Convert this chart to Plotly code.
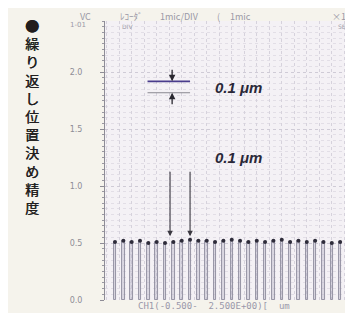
import plotly.graph_objects as go

# ---- data ----
bar_index = list(range(1, 31))
bar_values = [0.51, 0.52, 0.51, 0.52, 0.50, 0.51, 0.50, 0.51, 0.52, 0.53,
              0.52, 0.52, 0.51, 0.52, 0.53, 0.52, 0.51, 0.52, 0.51, 0.52,
              0.53, 0.51, 0.52, 0.51, 0.52, 0.51, 0.50, 0.51, 0.50, 0.51]
y_tick_vals = [0.0, 0.5, 1.0, 1.5, 2.0]
y_tick_text = ["0.0", "0.5", "1.0", "1.5", "2.0"]
ref_levels = [1.92, 1.82]
ref_span = [4.9, 10.0]
arrow_bars = [7.6, 10.0]
title_text = "●繰り返し位置決め精度"
annot_text = "0.1 μm"
header_parts = ["VC", "ﾚｺｰﾀﾞ", "1mic/DIV", "(", "1mic", "×1)"]
header_px = [70, 110, 150, 207, 220, 322]
caption_text = "CH1(-0.500-  2.500E+00)[  um"

fig = go.Figure()

fig.add_trace(go.Bar(
    x=bar_index, y=bar_values, width=0.3,
    marker=dict(color="rgba(170,165,190,0.35)",
                line=dict(color="#8c8a9c", width=0.9)),
    hoverinfo="skip", showlegend=False))

fig.add_trace(go.Scatter(
    x=bar_index, y=bar_values, mode="markers",
    marker=dict(color="#2e2c3a", size=4),
    hoverinfo="skip", showlegend=False))

# reference lines (0.1 um apart)
fig.add_shape(type="line", x0=ref_span[0], x1=ref_span[1], y0=ref_levels[0], y1=ref_levels[0],
              line=dict(color="#4a3c8c", width=1.6))
fig.add_shape(type="line", x0=ref_span[0], x1=ref_span[1], y0=ref_levels[1], y1=ref_levels[1],
              line=dict(color="#8a8890", width=1))

ax_x = (ref_span[0] + ref_span[1]) / 2 + 0.4
fig.add_annotation(x=ax_x, y=ref_levels[0], ax=0, ay=-13, showarrow=True,
                   arrowhead=2, arrowsize=1, arrowwidth=1.3, arrowcolor="#2a2830", text="")
fig.add_annotation(x=ax_x, y=ref_levels[1], ax=0, ay=13, showarrow=True,
                   arrowhead=2, arrowsize=1, arrowwidth=1.3, arrowcolor="#2a2830", text="")

for xb in arrow_bars:
    fig.add_annotation(x=xb, y=0.56, ax=0, ay=-66, showarrow=True,
                       arrowhead=2, arrowsize=1, arrowwidth=1.1, arrowcolor="#3a3840", text="")

for yv in [(ref_levels[0] + ref_levels[1]) / 2, 1.25]:
    fig.add_annotation(xref="paper", yref="y", x=0.42, y=yv,
                       xanchor="left", yanchor="middle", showarrow=False,
                       text="<b><i>" + annot_text + "</i></b>",
                       font=dict(family="Liberation Sans, Arial", size=15, color="#2a2838"))

# vertical Japanese title
fig.add_annotation(xref="paper", yref="paper", x=-0.285, y=1.027,
                   xanchor="center", yanchor="top", showarrow=False, align="center",
                   text="<br>".join(list(title_text)),
                   font=dict(family="Noto Sans CJK JP", size=14, color="#221e1e",
                             shadow="0.5px 0px 0px #221e1e"))

# header / caption texts
def px_to_paper(px):
    return (px - 97) / 256.0

for t, p in zip(header_parts, header_px):
    fig.add_annotation(xref="paper", yref="paper", x=px_to_paper(p), y=1.016,
                       xanchor="left", yanchor="middle", showarrow=False, text=t,
                       font=dict(family="Noto Sans CJK JP", size=9, color="#9a98a6"))
fig.add_annotation(xref="paper", yref="paper", x=px_to_paper(112), y=0.982, xanchor="left",
                   yanchor="middle", showarrow=False, text="DIV",
                   font=dict(family="DejaVu Sans", size=6, color="#a09eaa"))
fig.add_annotation(xref="paper", yref="paper", x=px_to_paper(328), y=0.982, xanchor="left",
                   yanchor="middle", showarrow=False, text="SEC",
                   font=dict(family="DejaVu Sans", size=6, color="#a09eaa"))
fig.add_annotation(xref="paper", yref="paper", x=px_to_paper(60), y=0.984, xanchor="left",
                   yanchor="middle", showarrow=False, text="1-01",
                   font=dict(family="DejaVu Sans", size=7, color="#9a98a6"))
fig.add_annotation(xref="paper", yref="paper", x=px_to_paper(128), y=-0.02, xanchor="left",
                   yanchor="middle", showarrow=False, text=caption_text,
                   font=dict(family="DejaVu Sans Mono", size=9, color="#9a98aa"))

fig.update_layout(
    width=353, height=313,
    margin=dict(l=97, r=0, t=13, b=21),
    paper_bgcolor="#f5f3ec",
    plot_bgcolor="#f4f1f5",
    bargap=0,
    showlegend=False,
    xaxis=dict(range=[-0.2, 30.5], showticklabels=False, ticks="",
               showgrid=True, dtick=1.5, gridcolor="#d6d2dc", griddash="dot", gridwidth=1,
               zeroline=False, showline=False),
    yaxis=dict(range=[0, 2.45], tickvals=y_tick_vals, ticktext=y_tick_text,
               tickfont=dict(family="DejaVu Sans", size=8, color="#8e8c96"),
               ticks="outside", ticklen=4, tickcolor="#8e8c96", ticklabelstandoff=16,
               showline=True, linecolor="#8e8c96", linewidth=1,
               showgrid=True, gridcolor="#cfcbd6", griddash="dot",
               minor=dict(dtick=0.05, ticks="outside", ticklen=2, tickcolor="#9a98a2",
                          showgrid=True, gridcolor="#e2dee6", griddash="dot"),
               zeroline=False),
)

fig.write_html("out.html")
